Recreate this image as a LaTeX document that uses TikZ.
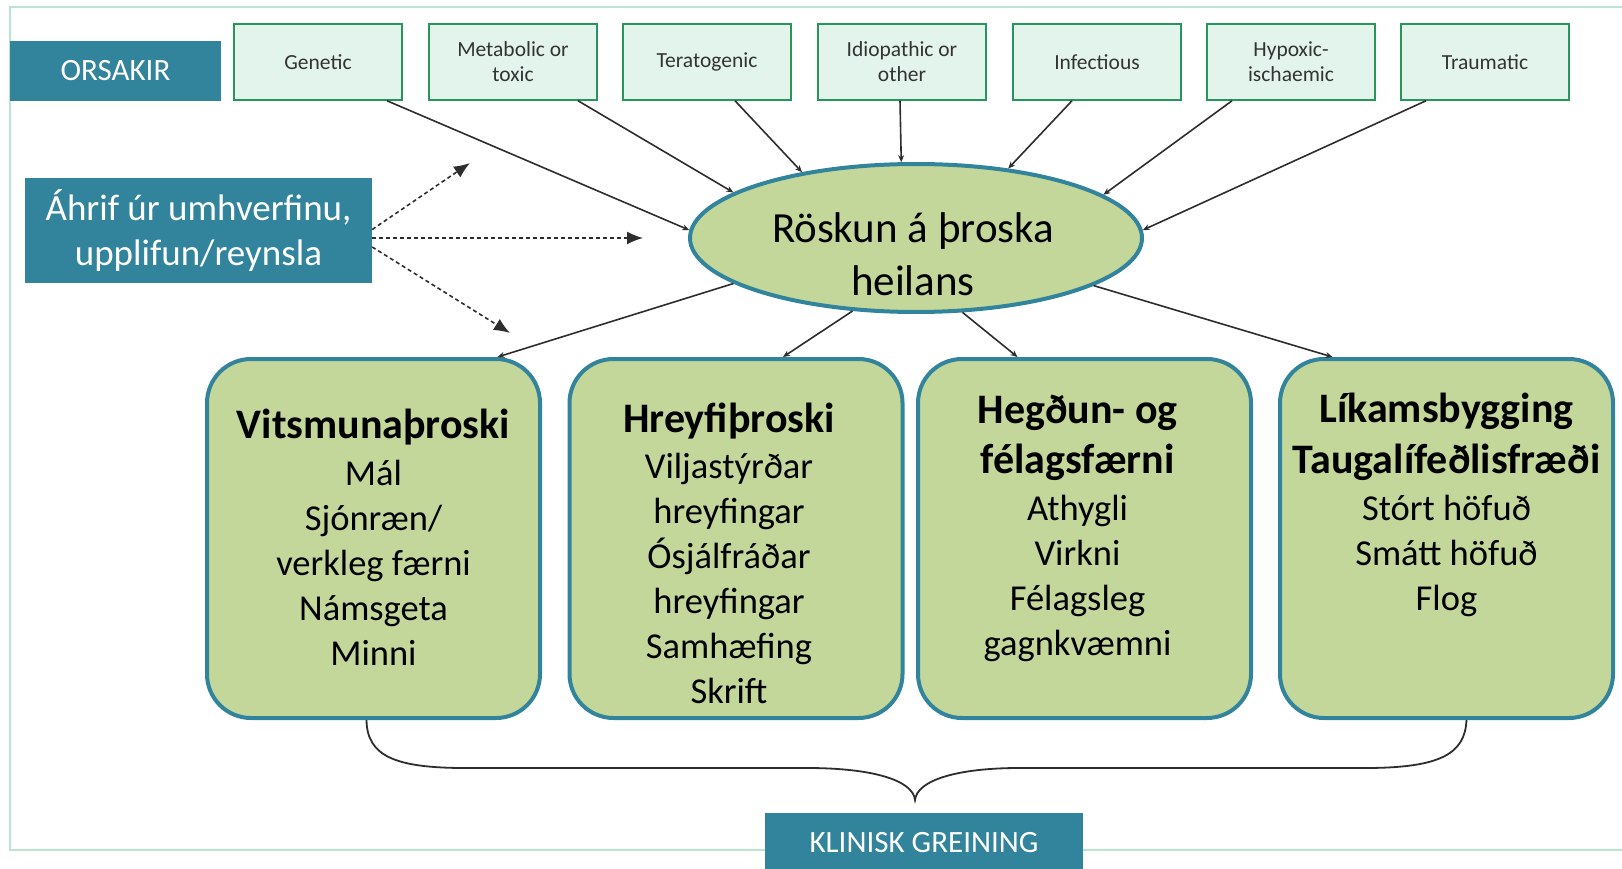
\documentclass[tikz,border=0pt]{standalone}
\usepackage{fontspec}
\setmainfont{Carlito}
\usetikzlibrary{arrows.meta,shapes.geometric}
\definecolor{tealbox}{RGB}{49,132,155}
\definecolor{leaf}{RGB}{196,215,155}
\definecolor{mint}{RGB}{226,244,236}
\definecolor{mintline}{RGB}{40,150,90}
\definecolor{framegreen}{RGB}{188,228,210}
\definecolor{wire}{RGB}{45,45,45}
\newcommand{\areahead}[1]{{\fontsize{42}{45}\selectfont\bfseries #1}}

\begin{document}
\begin{tikzpicture}[x=1pt,y=-1pt,
  tag box/.style={fill=tealbox,text=white,inner sep=0pt,align=center},
  cause/.style={draw=mintline,fill=mint,line width=1.5pt,minimum width=168pt,minimum height=76pt,
    inner sep=0pt,align=center,text=black!80,font=\fontsize{21.5}{25}\selectfont},
  hub/.style={ellipse,draw=tealbox,fill=leaf,line width=4pt,minimum width=452pt,minimum height=148pt},
  area/.style={draw=tealbox,fill=leaf,line width=4pt,rounded corners=44pt,minimum width=333pt,minimum height=359pt},
  areatext/.style={text width=330pt,align=flush center,inner sep=0pt,anchor=base,font=\fontsize{36.5}{45}\selectfont},
  link/.style={wire,line width=1.6pt,-{Stealth[length=7pt,width=6pt]}},
  effect/.style={wire,line width=1.6pt,dash pattern=on 4pt off 3pt,-{Latex[length=16pt,width=13pt]}}
]
\useasboundingbox (0,0) rectangle (1622,869);
\draw[framegreen,line width=2.5pt] (1622,7) -- (10,7) -- (10,850) -- (1622,850);

\node[tag box,minimum width=211pt,minimum height=60pt,font=\fontsize{31}{36}\selectfont] (orsakir) at (115.5,71) {ORSAKIR};
\foreach \name/\x/\txt in {c1/318/Genetic, c2/513/{Metabolic or\\toxic}, c3/707/Teratogenic,
    c4/902/{Idiopathic or\\other}, c5/1097/Infectious, c6/1291/{Hypoxic-\\ischaemic}, c7/1485/Traumatic}
  \node[cause] (\name) at (\x,62) {\txt};

\node[tag box,minimum width=347pt,minimum height=105pt,font=\fontsize{37}{45}\selectfont] (ahrif) at (198.5,230.5)
  {Áhrif úr umhverfinu,\\upplifun/reynsla};

\node[hub] (hub) at (916,238) {};
\node[font=\fontsize{43}{52}\selectfont,text width=440pt,align=flush center,inner sep=0pt,anchor=base] (hubtext) at (913,243)
  {Röskun á þroska\\heilans};

\node[area] (b1) at (373.5,538.5) {};
\node[area] (b2) at (736,538.5) {};
\node[area] (b3) at (1084.5,538.5) {};
\node[area] (b4) at (1446.5,538.5) {};
\node[areatext] (t1) at (373.5,438) {\areahead{Vitsmunaþroski}\\[2pt]Mál\\Sjónræn/\\verkleg færni\\Námsgeta\\Minni};
\node[areatext] (t2) at (729,432) {\areahead{Hreyfiþroski}\\[1pt]Viljastýrðar\\hreyfingar\\Ósjálfráðar\\hreyfingar\\Samhæfing\\Skrift};
\node[areatext] (t3) at (1077.5,423) {\areahead{Hegðun- og}\\[5pt]\areahead{félagsfærni}\\[2pt]Athygli\\Virkni\\Félagsleg\\gagnkvæmni};
\node[areatext] (t4) at (1446.5,422) {\areahead{Líkamsbygging}\\[6pt]\areahead{Taugalífeðlisfræði}\\[2pt]Stórt höfuð\\Smátt höfuð\\Flog};

\node[tag box,minimum width=318pt,minimum height=60pt,font=\fontsize{31}{36}\selectfont] (klinisk) at (924,843) {KLINISK GREINING};

\draw[link] ([xshift=69pt]c1.south) -- (hub.178);
\draw[link] ([xshift=65pt]c2.south) -- (hub.166.6);
\draw[link] ([xshift=28pt]c3.south) -- (hub.150);
\draw[link] ([xshift=-2pt]c4.south) -- (hub.101.9);
\draw[link] ([xshift=-25pt]c5.south) -- (hub.37.8);
\draw[link] ([xshift=-59pt]c6.south) -- (hub.13.7);
\draw[link] ([xshift=-59pt]c7.south) -- (hub.2.5);

\draw[link] (hub.194.3) -- ([xshift=124pt]b1.north);
\draw[link] (hub.229.5) -- ([xshift=47pt]b2.north);
\draw[link] (hub.302.5) -- ([xshift=-67pt]b3.north);
\draw[link] (hub.345.7) -- ([xshift=-114pt]b4.north);

\coordinate (upTip) at (470,163);
\coordinate (midTip) at (643,238);
\coordinate (lowTip) at (510,333);
\draw[effect] ([yshift=1pt]ahrif.east) -- (upTip);
\draw[effect] ([yshift=-7.5pt]ahrif.east) -- (midTip);
\draw[effect] ([yshift=-16.5pt]ahrif.east) -- (lowTip);

\coordinate (brL) at ([xshift=-7pt]b1.south);
\coordinate (brR) at ([xshift=20pt]b4.south);
\coordinate (brTip) at (915,800);
\draw[wire,line width=1.8pt] (brL) .. controls (367,756) and (395,768) .. (465,768) -- (807,768)
  .. controls (872,768) and (913,780) .. (brTip) .. controls (917,780) and (958,768) .. (1019,768)
  -- (1365,768) .. controls (1440,768) and (1465,754) .. (brR);
\end{tikzpicture}
\end{document}
